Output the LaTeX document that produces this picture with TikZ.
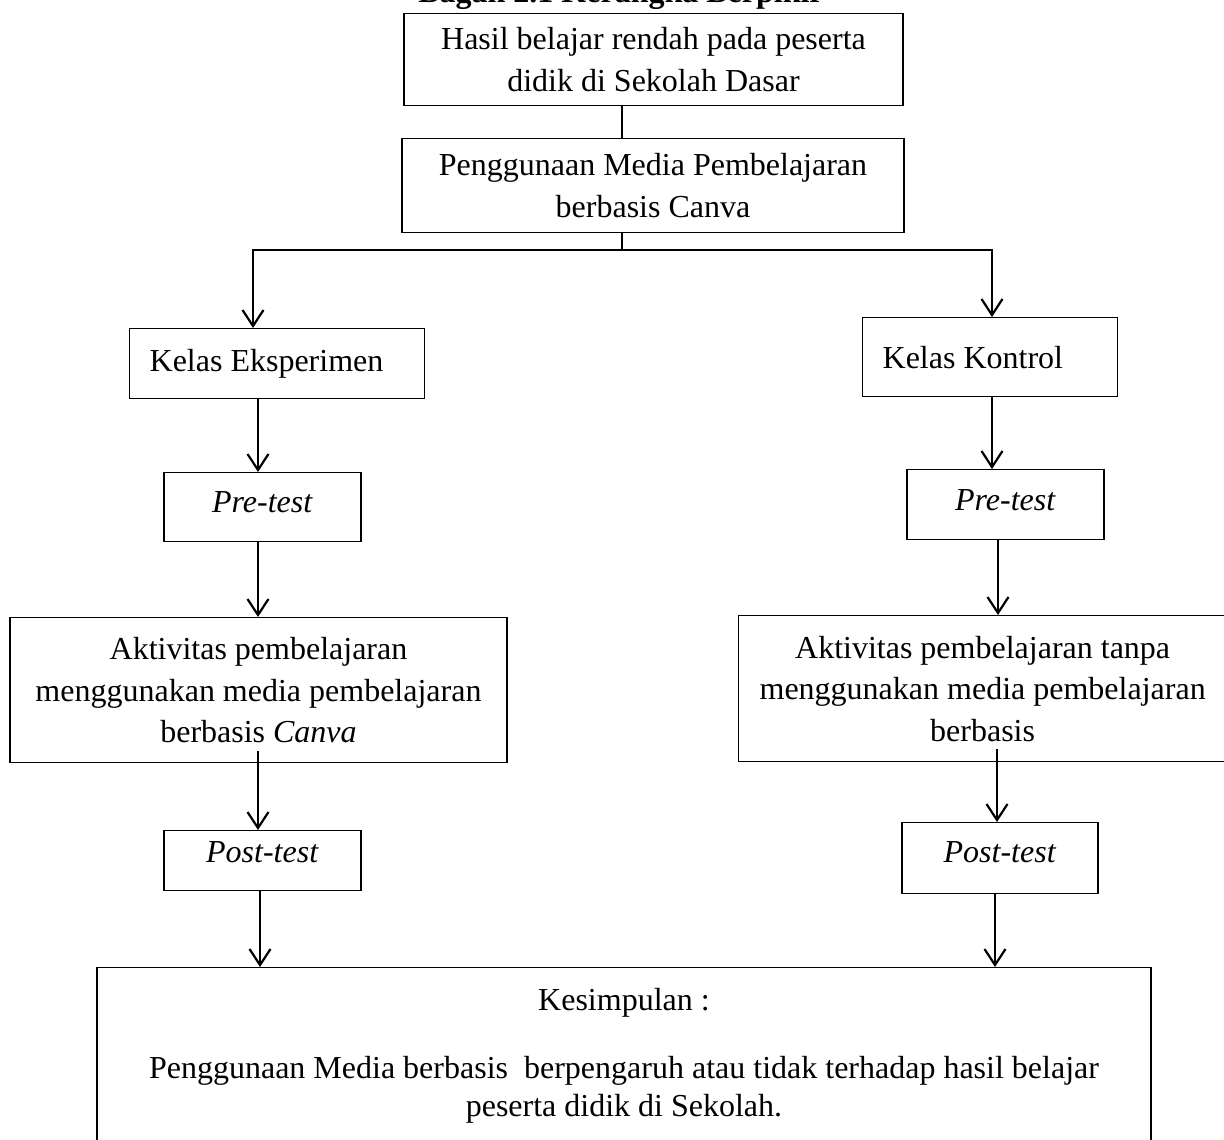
\documentclass[tikz,border=0pt]{standalone}
\usepackage{fontspec}
\setmainfont{Liberation Serif}
\usetikzlibrary{arrows.meta}
\begin{document}
\begin{tikzpicture}[x=1pt,y=-1pt,
  box/.style={draw, line width=1.3pt, inner sep=0pt, align=center, font=\fontsize{32}{41.5}\selectfont},
  conn/.style={line width=1.3pt},
  arr/.style={line width=2.2pt, line join=miter, -{Straight Barb[length=16pt,width=21pt]}}]
\useasboundingbox (0,0) rectangle (1224,1140);
\clip (0,0) rectangle (1224,1140);
\node[font=\bfseries\fontsize{32}{38}\selectfont, anchor=base] (title) at (621,3) {Bagan 2.1 Kerangka Berpikir};
\node[box, minimum width=499, minimum height=92, anchor=north] (b1) at (653.5,13) {Hasil belajar rendah pada peserta\\didik di Sekolah Dasar};
\node[box, minimum width=502, minimum height=94, anchor=north] (b2) at (653,138) {Penggunaan Media Pembelajaran\\berbasis Canva};
\node[box, inner xsep=20, minimum height=70, anchor=north west] (kE) at (129,328) {\makebox[255pt][l]{Kelas Eksperimen}};
\node[box, inner xsep=20, minimum height=79, anchor=north west] (kK) at (862,317) {\makebox[215pt][l]{Kelas Kontrol}};
\node[box, minimum width=197, minimum height=69, text depth=10pt, anchor=north] (preL) at (262.5,472) {\textit{Pre-test}};
\node[box, minimum width=197, minimum height=70, text depth=9pt, anchor=north] (preR) at (1005.5,469) {\textit{Pre-test}};
\node[box, minimum width=497, minimum height=145, anchor=north] (actL) at (258.5,617) {Aktivitas pembelajaran\\menggunakan media pembelajaran\\berbasis \textit{Canva}};
\node[box, minimum width=488, minimum height=146, anchor=north west] (actR) at (738,615) {Aktivitas pembelajaran tanpa\\menggunakan media pembelajaran\\berbasis};
\node[box, minimum width=197, minimum height=60, text depth=17pt, anchor=north] (postL) at (262.5,830) {\textit{Post-test}};
\node[box, minimum width=196, minimum height=71, text depth=12pt, anchor=north] (postR) at (1000,822) {\textit{Post-test}};
\node[box, minimum width=1054, inner ysep=21, anchor=north] (kes) at (624,967) {Kesimpulan :\\[26pt]Penggunaan Media berbasis\ \ berpengaruh atau tidak terhadap hasil belajar\\[-3pt]peserta didik di Sekolah.\rule[-20pt]{0pt}{0pt}};
% connectors
\coordinate (jn) at (622,250);
\coordinate (brL) at (253,250);
\coordinate (brR) at (992,250);
\coordinate (cL) at (258,0);
\coordinate (cL5) at (260,0);
\coordinate (cR3) at (998,0);
\coordinate (cR4) at (997,0);
\coordinate (cR5) at (995,0);
\draw[conn] (b1.south -| jn) -- (b2.north -| jn);
\draw[conn] (b2.south -| jn) -- (jn);
\draw[arr] (jn) -- (brL) -- (kE.north -| brL);
\draw[arr] (jn) -- (brR) -- (kK.north -| brR);
\draw[arr] (kE.south -| cL) -- (preL.north -| cL);
\draw[arr] (kK.south -| brR) -- (preR.north -| brR);
\draw[arr] (preL.south -| cL) -- (actL.north -| cL);
\draw[arr] (preR.south -| cR3) -- (actR.north -| cR3);
\draw[arr] ([yshift=12pt]actL.south -| cL) -- (postL.north -| cL);
\draw[arr] ([yshift=13pt]actR.south -| cR4) -- (postR.north -| cR4);
\draw[arr] (postL.south -| cL5) -- (kes.north -| cL5);
\draw[arr] (postR.south -| cR5) -- (kes.north -| cR5);
\end{tikzpicture}
\end{document}
